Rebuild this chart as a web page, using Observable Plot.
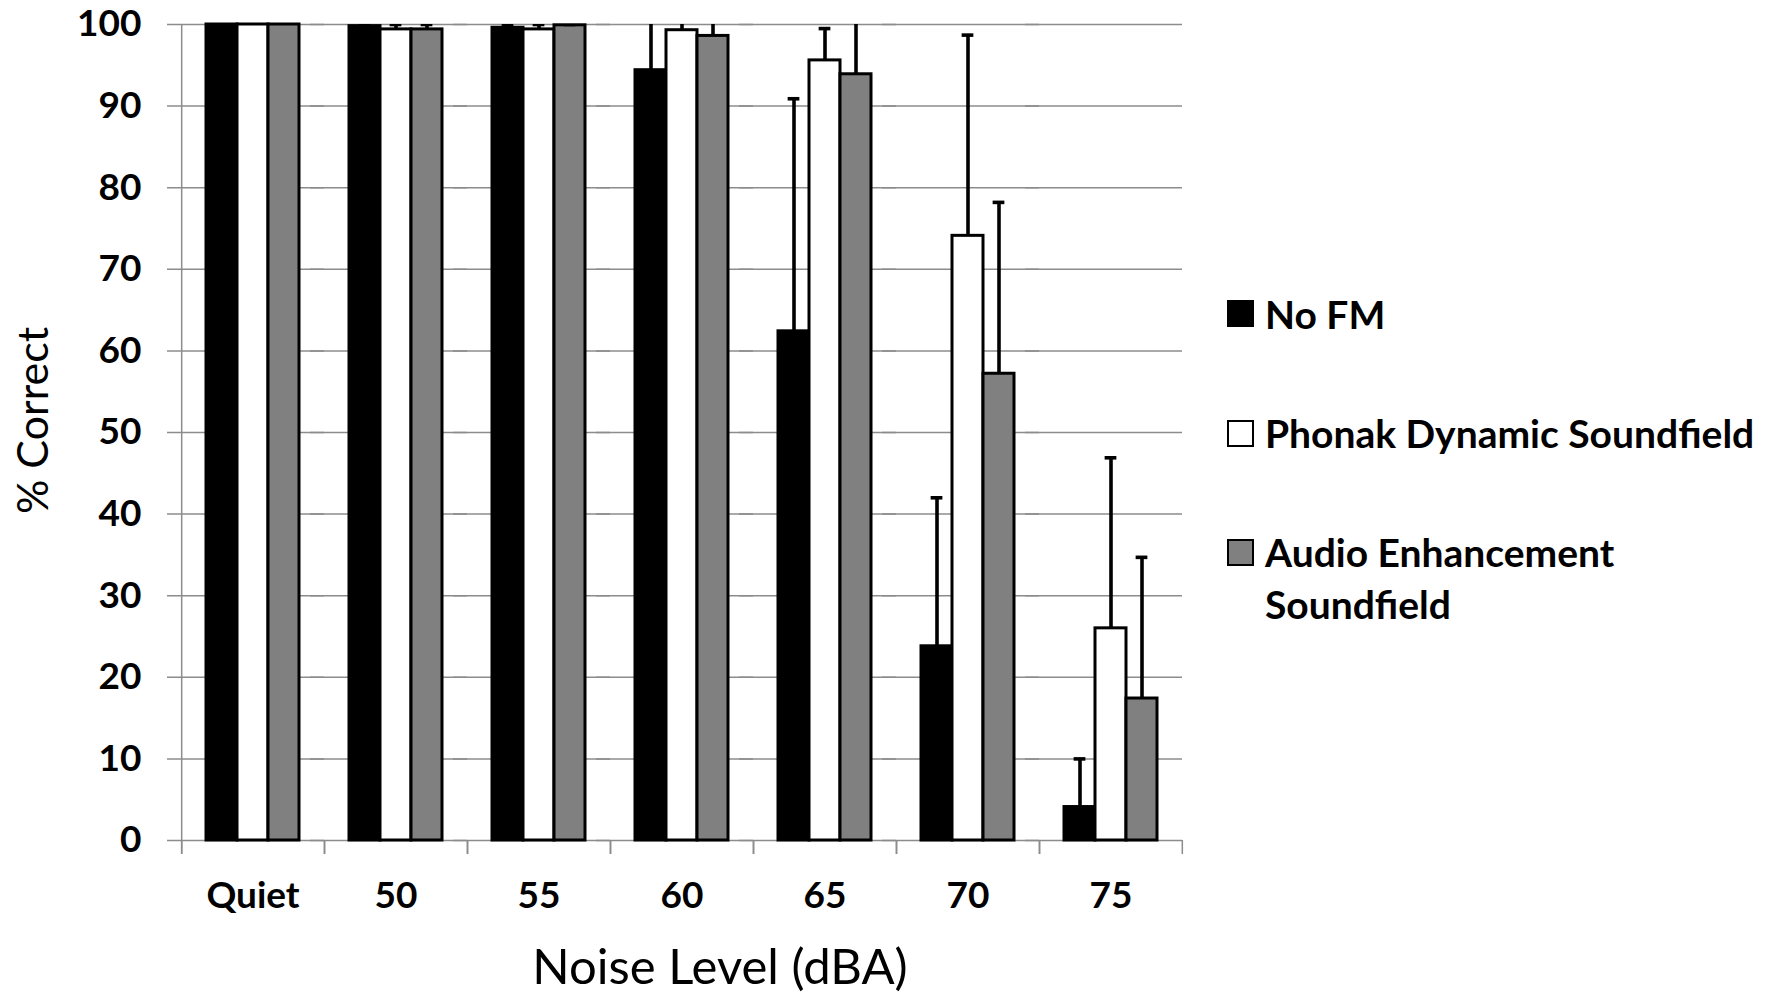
<!DOCTYPE html>
<html>
<head>
<meta charset="utf-8">
<script src="https://cdn.jsdelivr.net/npm/d3@7"></script>
<script src="https://cdn.jsdelivr.net/npm/@observablehq/plot@0.6"></script>
<style>
  html, body { margin: 0; padding: 0; background: #fff; }
  #wrap { position: relative; width: 1775px; height: 993px; overflow: hidden; background: #fff; }
  #legend { position: absolute; left: 1227px; top: 0; font-family: Lato, sans-serif; font-weight: bold; font-size: 39px; color: #000; }
  .item { position: absolute; left: 0; display: flex; align-items: flex-start; }
  .sw { width: 27px; height: 27px; box-sizing: border-box; border: 2.5px solid #000; margin-right: 11px; }
  .lab { white-space: pre; line-height: 52px; }
</style>
</head>
<body>
<div id="wrap"><div id="legend"></div></div>
<script>
// ---- data ----
const levels = ["Quiet", "50", "55", "60", "65", "70", "75"];
const series = ["No FM", "Phonak Dynamic Soundfield", "Audio Enhancement Soundfield"];
const legendLabels = ["No FM", "Phonak Dynamic Soundfield", "Audio Enhancement\nSoundfield"];
const noFM      = [100, 99.8, 99.6, 94.4, 62.4, 23.8, 4.1];
const phonak    = [100, 99.4, 99.4, 99.3, 95.6, 74.1, 26.0];
const audio     = [100, 99.4, 99.9, 98.6, 93.9, 57.2, 17.4];
const noFMErr   = [0, 0.3, 0.4, 8.0, 28.5, 18.2, 5.9];
const phonakErr = [0, 0.6, 0.6, 1.0, 3.9, 24.6, 20.9];
const audioErr  = [0, 0.6, 0.1, 3.0, 8.0, 21.0, 17.3];
const yTicks = [0, 10, 20, 30, 40, 50, 60, 70, 80, 90, 100];
const colors = ["#000000", "#ffffff", "#808080"];
const xTitle = "Noise Level (dBA)";
const yTitle = "% Correct";

// ---- table ----
const values = [noFM, phonak, audio];
const errs = [noFMErr, phonakErr, audioErr];
const rows = levels.flatMap((l, i) => series.map((s, j) => ({
  level: l, series: s, value: values[j][i], err: errs[j][i]
})));
const errRows = rows.filter(d => d.err > 0);

// ---- layout ----
const W = 1775, H = 993, mL = 180, mR = 593, mT = 24, mB = 153;
const P = 0.79; // outer padding of the series band within a level
const facetW = (W - mL - mR) / levels.length;
const step = facetW / (series.length + 2 * P);
const edge = (0.5 + P) * step;
const capW = 12;
const capInset = (step - capW) / 2;
const gray = "#8c8c8c";

const chart = Plot.plot({
  width: W, height: H,
  marginLeft: mL, marginRight: mR, marginTop: mT, marginBottom: mB,
  style: {fontFamily: "Lato, sans-serif", fontSize: "37px", fontWeight: "bold", color: "#000", background: "#fff"},
  fx: {domain: levels, padding: 0, axis: "bottom", tickSize: 0, tickPadding: 41, label: null},
  x: {domain: series, paddingInner: 0, paddingOuter: P, axis: null},
  y: {domain: [0, 100], ticks: yTicks, tickSize: 0, tickPadding: 40, label: null},
  color: {domain: series, range: colors},
  marks: [
    Plot.ruleY(yTicks, {stroke: gray, strokeWidth: 1.5, insetLeft: -14}),
    Plot.ruleX([series[0]], {x: d => d, y1: 0, y2: 0, insetBottom: -14, dx: -edge, stroke: gray, strokeWidth: 1.5}),
    Plot.ruleX([series[series.length - 1]], {x: d => d, y1: 0, y2: 0, insetBottom: -14, dx: edge, stroke: gray, strokeWidth: 1.5}),
    Plot.ruleX([levels[0]], {fx: d => d, x: () => series[0], dx: -edge, insetBottom: -14, stroke: gray, strokeWidth: 1.5}),
    Plot.barY(rows, {fx: "level", x: "series", y: "value", fill: "series", stroke: "#000", strokeWidth: 3}),
    Plot.ruleX(errRows, {fx: "level", x: "series", y1: "value", y2: d => d.value + d.err, stroke: "#000", strokeWidth: 3.6, clip: true}),
    Plot.tickY(errRows, {fx: "level", x: "series", y: d => d.value + d.err, stroke: "#000", strokeWidth: 3.6, insetLeft: capInset, insetRight: capInset, clip: true}),
    Plot.text([yTitle], {fx: () => levels[0], text: d => d, frameAnchor: "left", dx: -147, dy: -12, rotate: -90,
      textAnchor: "middle", lineAnchor: "middle", fontSize: 43, fontWeight: "normal", fill: "#000"}),
    Plot.text([xTitle], {fx: () => levels[3], text: d => d, frameAnchor: "bottom", dx: 38, dy: 128,
      textAnchor: "middle", lineAnchor: "middle", fontSize: 49, fontWeight: "normal", fill: "#000"})
  ]
});
document.getElementById("wrap").prepend(chart);

// ---- legend ----
const legendCenters = [313.5, 433, 552];
const lg = document.getElementById("legend");
series.forEach((s, j) => {
  const it = document.createElement("div");
  it.className = "item";
  it.style.top = (legendCenters[j] - 26) + "px";
  const sw = document.createElement("div");
  sw.className = "sw";
  sw.style.background = colors[j];
  sw.style.marginTop = "12.5px";
  const lab = document.createElement("div");
  lab.className = "lab";
  lab.textContent = legendLabels[j];
  it.appendChild(sw);
  it.appendChild(lab);
  lg.appendChild(it);
});
</script>
</body>
</html>
